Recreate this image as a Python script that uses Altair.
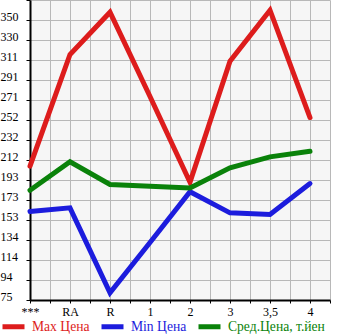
import altair as alt
import pandas as pd

# ---- data ----
categories = ["***", "RA", "R", "1", "2", "3", "3,5", "4"]
max_price = [206.4, 316.1, 357.7, 274.9, 190.7, 309.5, 359.6, 254.2]
min_price = [161.9, 165.5, 82.1, 131.5, 181.3, 160.6, 159.0, 189.4]
avg_price = [182.8, 210.7, 188.4, 186.8, 185.0, 204.8, 215.6, 221.1]
series_names = ["Max Цена", "Min Цена", "Сред.Цена, т.йен"]
series_colors = ["#dd1c1c", "#1c1cdd", "#0a820a"]
y_tick_labels = ["75", "94", "114", "134", "153", "173", "193", "212",
                 "232", "252", "271", "291", "311", "330", "350", ""]

Y_MIN = 75
Y_STEP = 275 / 14
Y_MAX = Y_MIN + 15 * Y_STEP

rows = []
for name, vals in zip(series_names, [max_price, min_price, avg_price]):
    for i, v in enumerate(vals):
        rows.append({"pos": i, "value": v, "series": name})
df = pd.DataFrame(rows)

x_ticks = [i * 0.5 for i in range(16)]
y_ticks = [Y_MIN + i * Y_STEP for i in range(16)]

cat_js = "[" + ",".join("'" + c + "'" for c in categories) + "]"
ylab_js = "[" + ",".join("'" + c + "'" for c in y_tick_labels) + "]"
x_label_expr = f"datum.value % 1 == 0 ? {cat_js}[datum.value] : ''"
y_label_expr = f"{ylab_js}[round((datum.value - {Y_MIN}) / {Y_STEP})]"

color_expr = " : ".join(
    f"datum.label == '{n}' ? '{c}'" for n, c in zip(series_names[:-1], series_colors[:-1])
) + f" : '{series_colors[-1]}'"

FONT = "Liberation Serif"

chart = alt.Chart(df).mark_line(strokeWidth=5, strokeCap="round").encode(
    x=alt.X(
        "pos:Q",
        scale=alt.Scale(domain=[0, 7.5], nice=False, zero=False),
        axis=alt.Axis(
            values=x_ticks, labelExpr=x_label_expr, title=None,
            tickSize=3, labelPadding=3, labelFont=FONT, labelFontSize=12,
            labelColor="black", labelFlush=False, labelOverlap=False,
            labelBaseline="top",
        ),
    ),
    y=alt.Y(
        "value:Q",
        scale=alt.Scale(domain=[Y_MIN, Y_MAX], nice=False, zero=False),
        axis=alt.Axis(
            values=y_ticks, labelExpr=y_label_expr, title=None,
            tickSize=4, labelPadding=26, labelAlign="left",
            labelBaseline="alphabetic", labelFont=FONT, labelFontSize=12,
            labelColor="black", labelFlush=False, labelOverlap=False,
        ),
    ),
    color=alt.Color(
        "series:N",
        sort=series_names,
        scale=alt.Scale(domain=series_names, range=series_colors),
        legend=alt.Legend(
            title=None, orient="none", legendX=-30, legendY=313,
            direction="horizontal", symbolType="stroke", symbolSize=484,
            symbolStrokeWidth=5, labelFont=FONT, labelFontSize=13.6,
            labelColor=alt.ExprRef(expr=color_expr), labelOffset=5,
            columnPadding=1, padding=0,
        ),
    ),
).properties(
    width=300,
    height=300,
    autosize=alt.AutoSizeParams(type="none"),
    padding={"left": 30, "top": 0, "right": 15, "bottom": 35},
).configure_view(
    fill="#f6f6f6", stroke=None,
).configure_axis(
    domainColor="black", domainWidth=2, tickColor="black", tickWidth=1,
    gridColor="#b8b8b8", gridWidth=1, gridOpacity=1,
)

chart.save("out.html", embed_options={"renderer": "svg", "actions": False})
